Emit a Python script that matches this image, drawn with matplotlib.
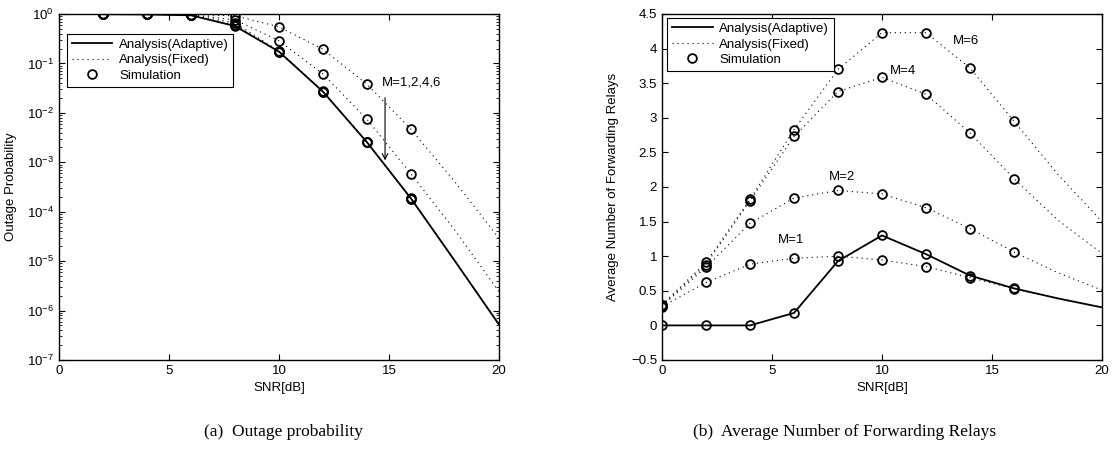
import numpy as np
import matplotlib
matplotlib.use('Agg')
import matplotlib.pyplot as plt
from matplotlib.lines import Line2D

plt.rcParams['font.family'] = ['Liberation Sans', 'DejaVu Sans']
plt.rcParams['mathtext.fontset'] = 'custom'
plt.rcParams['mathtext.rm'] = 'Liberation Sans'
plt.rcParams['mathtext.it'] = 'Liberation Sans:italic'
plt.rcParams['axes.unicode_minus'] = True

# (a) outage probability, SNR 2..20 dB
snr_out = [2, 4, 6, 8, 10, 12, 14, 16, 18, 20]
out_adaptive = [0.99, 0.98, 0.94, 0.57, 0.173, 0.0268, 0.00254, 1.85e-4, 1.0e-5, 5.2e-7]
out_fixed_m1 = [1.0, 0.995, 0.975, 0.92, 0.55, 0.193, 0.0378, 0.00464, 4.0e-4, 2.9e-5]
out_fixed_m2 = [0.995, 0.99, 0.965, 0.76, 0.288, 0.0611, 0.0074, 5.8e-4, 4.2e-5, 2.4e-6]
out_fixed_m4 = [0.99, 0.985, 0.955, 0.66, 0.178, 0.0272, 0.00256, 1.86e-4, 1.0e-5, 5.3e-7]
out_fixed_m6 = [0.99, 0.98, 0.945, 0.60, 0.174, 0.0269, 0.00254, 1.85e-4, 1.0e-5, 5.2e-7]
n_sim_out = 8  # simulated points at 2..16 dB

# (b) average number of forwarding relays, SNR 0..20 dB
snr_avg = [0, 2, 4, 6, 8, 10, 12, 14, 16, 18, 20]
avg_adaptive = [0, 0, 0, 0.18, 0.93, 1.30, 1.03, 0.72, 0.535, 0.39, 0.26]
avg_fixed_m1 = [0.27, 0.62, 0.885, 0.97, 1.0, 0.945, 0.85, 0.69, 0.53, 0.385, 0.26]
avg_fixed_m2 = [0.28, 0.84, 1.475, 1.84, 1.95, 1.90, 1.70, 1.40, 1.06, 0.76, 0.51]
avg_fixed_m4 = [0.29, 0.88, 1.80, 2.73, 3.38, 3.585, 3.34, 2.78, 2.12, 1.52, 1.04]
avg_fixed_m6 = [0.30, 0.91, 1.82, 2.83, 3.70, 4.23, 4.23, 3.72, 2.95, 2.18, 1.50]
n_sim_avg = 9  # simulated points at 0..16 dB

m_labels = ['M=1', 'M=2', 'M=4', 'M=6']
m_label_pos = [(5.25, 1.23), (7.6, 2.15), (10.35, 3.68), (13.2, 4.11)]

solid_kw = dict(color='k', lw=1.3)
dot_kw = dict(color='k', lw=0.8, linestyle=(0, (1, 3.5)))
circ_kw = dict(ls='none', marker='o', ms=6.3, mfc='none', mec='k', mew=1.3)

fig = plt.figure(figsize=(11.14, 4.53), dpi=100)
ax1 = fig.add_axes([59 / 1114, 93 / 453, 440 / 1114, 346 / 453])
ax2 = fig.add_axes([662 / 1114, 93 / 453, 440 / 1114, 346 / 453])

# ---- (a)
ax1.semilogy(snr_out, out_adaptive, **solid_kw)
for ys in [out_fixed_m1, out_fixed_m2, out_fixed_m4, out_fixed_m6]:
    ax1.semilogy(snr_out, ys, **dot_kw)
for ys in [out_adaptive, out_fixed_m1, out_fixed_m2, out_fixed_m4, out_fixed_m6]:
    ax1.semilogy(snr_out[:n_sim_out], ys[:n_sim_out], **circ_kw)
ax1.set_xlim(0, 20)
ax1.set_ylim(1e-7, 1)
ax1.set_yticks([10.0 ** k for k in range(-7, 1)])
ax1.text(14.68, 0.041, 'M=1,2,4,6', fontsize=9.5, va='center', ha='left')
ax1.annotate('', xy=(14.82, 9.6e-4), xytext=(14.82, 0.023),
             arrowprops=dict(arrowstyle='->', color='k', lw=0.8))
ax1.set_xlabel('SNR[dB]', fontsize=9.5)
ax1.set_ylabel('Outage Probability', fontsize=9.5)
ax1.yaxis.set_label_coords(-0.095, 0.5)

# ---- (b)
ax2.plot(snr_avg, avg_adaptive, **solid_kw)
for ys in [avg_fixed_m1, avg_fixed_m2, avg_fixed_m4, avg_fixed_m6]:
    ax2.plot(snr_avg, ys, **dot_kw)
for ys in [avg_adaptive, avg_fixed_m1, avg_fixed_m2, avg_fixed_m4, avg_fixed_m6]:
    ax2.plot(snr_avg[:n_sim_avg], ys[:n_sim_avg], **circ_kw)
for lab, (x, y) in zip(m_labels, m_label_pos):
    ax2.text(x, y, lab, fontsize=9.5, va='center', ha='left')
ax2.set_xlim(0, 20)
ax2.set_ylim(-0.5, 4.5)
yt = np.arange(-0.5, 4.51, 0.5)
ax2.set_yticks(yt)
ax2.set_yticklabels(['%g' % v if v >= 0 else '\u2212%g' % -v for v in yt])
ax2.set_xlabel('SNR[dB]', fontsize=9.5)
ax2.set_ylabel('Average Number of Forwarding Relays', fontsize=9.5)
ax2.yaxis.set_label_coords(-0.098, 0.5)

for ax in (ax1, ax2):
    ax.set_xticks([0, 5, 10, 15, 20])
    ax.tick_params(which='both', direction='in', top=True, right=True, labelsize=9.5)
    ax.tick_params(which='major', length=4, width=0.8)
    ax.tick_params(which='minor', length=2, width=0.6)
    for sp in ax.spines.values():
        sp.set_linewidth(1.0)

handles = [Line2D([], [], **solid_kw), Line2D([], [], **dot_kw), Line2D([], [], **circ_kw)]
names = ['Analysis(Adaptive)', 'Analysis(Fixed)', 'Simulation']
leg_kw = dict(loc='upper left', fontsize=9.5, fancybox=False, edgecolor='k', framealpha=1,
              handlelength=3.1, handletextpad=0.5, borderpad=0.35, labelspacing=0.25,
              borderaxespad=0)
l1 = ax1.legend(handles, names, bbox_to_anchor=(0.018, 0.942), **leg_kw)
l2 = ax2.legend(handles, names, bbox_to_anchor=(0.012, 0.988), **leg_kw)
for l in (l1, l2):
    l.get_frame().set_linewidth(0.8)

fig.text(283 / 1114, 1 - 432 / 453, '(a)  Outage probability', ha='center', va='center',
         family=['Liberation Serif'], fontsize=12.5)
fig.text(845 / 1114, 1 - 432 / 453, '(b)  Average Number of Forwarding Relays', ha='center',
         va='center', family=['Liberation Serif'], fontsize=12.5)

fig.savefig('out.png', dpi=100)
